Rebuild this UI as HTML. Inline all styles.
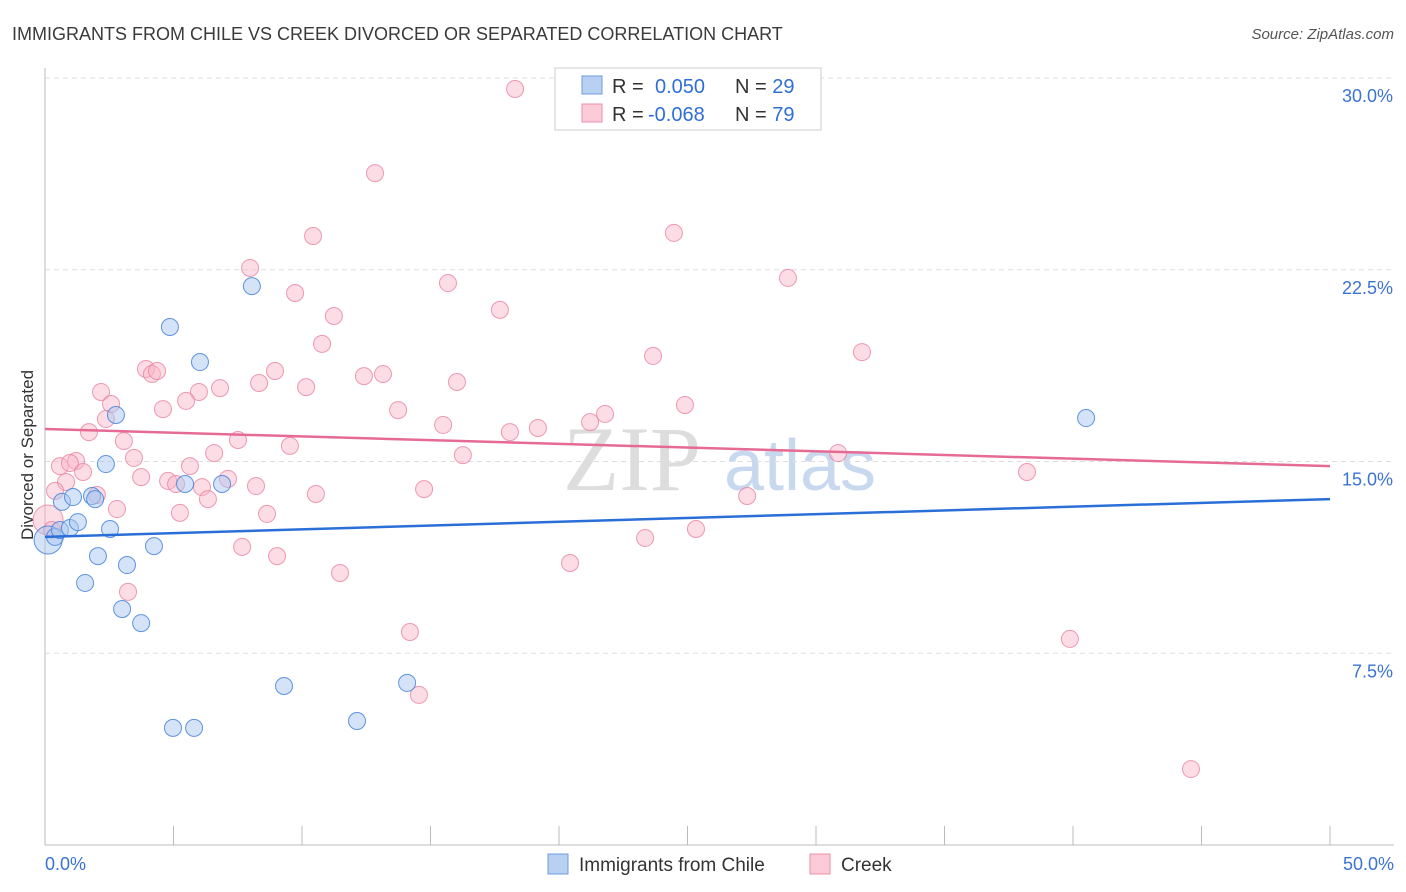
<!DOCTYPE html>
<html><head><meta charset="utf-8"><style>
body{margin:0;background:#fff;font-family:"Liberation Sans",sans-serif;}
svg{display:block}
</style></head><body>
<svg id="chart" width="1406" height="892">
<text x="12" y="40" font-size="18" fill="#3a3a3a">IMMIGRANTS FROM CHILE VS CREEK DIVORCED OR SEPARATED CORRELATION CHART</text>
<text x="1394" y="39" font-size="15" fill="#555" text-anchor="end" font-style="italic">Source: ZipAtlas.com</text>
<text transform="translate(33,455) rotate(-90)" font-size="17" fill="#333" text-anchor="middle">Divorced or Separated</text>
<g id="watermark">
<text x="632" y="490" font-size="92" fill="#ddd" text-anchor="middle" font-family="Liberation Serif,serif">ZIP</text>
<text x="800" y="490" font-size="72" fill="#c8d8ee" text-anchor="middle">atlas</text>
</g>
<g id="grid"></g><g id="axes"></g><g id="points"></g><g id="trends"></g>
<g>
<rect x="555" y="68" width="266" height="62" fill="#fff" stroke="#ccc"/>
<rect x="582" y="76" width="20" height="18" fill="#b8d0f2" stroke="#6d9de0"/>
<rect x="582" y="104" width="20" height="18" fill="#fbcbd8" stroke="#ec8fab"/>
<text x="612" y="93" font-size="20" fill="#333">R = <tspan fill="#2f6fd6" x="655">0.050</tspan><tspan x="735" fill="#333">N = </tspan><tspan fill="#2f6fd6">29</tspan></text>
<text x="612" y="121" font-size="20" fill="#333">R = <tspan fill="#2f6fd6" x="648">-0.068</tspan><tspan x="735" fill="#333">N = </tspan><tspan fill="#2f6fd6">79</tspan></text>
</g>
<g>
<rect x="548" y="854" width="20" height="20" fill="#b8d0f2" stroke="#6d9de0"/>
<text x="579" y="871" font-size="19" fill="#333">Immigrants from Chile</text>
<rect x="810" y="854" width="20" height="20" fill="#fbcbd8" stroke="#ec8fab"/>
<text x="841" y="871" font-size="19" fill="#333">Creek</text>
</g>
</svg>
<script>
const blueX=[0.12,0.39,0.58,0.66,0.97,1.09,1.28,1.83,1.95,2.06,2.37,2.53,2.76,1.56,3.19,3.00,3.74,4.24,4.86,4.98,5.45,5.80,6.03,6.89,8.05,9.30,12.14,14.09,40.51];
const blueY=[11.93,12.05,12.32,13.42,12.40,13.61,12.63,13.65,13.53,11.30,14.90,12.36,16.82,10.25,10.95,9.23,8.68,11.69,20.26,4.58,14.12,4.58,18.89,14.12,21.86,6.22,4.85,6.34,16.70];
const pinkX=[18.29,12.84,10.43,24.47,7.98,15.68,28.91,9.73,17.70,11.24,10.78,23.66,31.79,3.93,4.16,4.36,8.95,12.41,13.15,8.33,10.16,16.03,6.81,2.18,5.99,5.49,2.57,4.59,13.74,24.90,2.37,21.79,21.21,15.49,19.18,18.09,1.71,3.07,7.51,9.53,6.58,3.46,16.26,30.86,1.21,0.58,0.97,5.64,1.48,3.74,7.12,8.21,4.79,0.82,5.10,6.11,0.39,2.02,6.34,10.54,14.75,27.32,2.80,5.25,8.64,38.21,23.35,25.33,7.67,9.03,20.43,11.48,3.23,14.20,39.88,14.55,44.59,0.12,0.27];
const pinkY=[29.57,26.28,23.82,23.94,22.57,21.98,22.18,21.59,20.93,20.69,19.60,19.13,19.28,18.62,18.42,18.54,18.54,18.34,18.42,18.07,17.91,18.11,17.87,17.72,17.72,17.37,17.25,17.05,17.01,17.21,16.66,16.86,16.54,16.43,16.31,16.15,16.15,15.80,15.84,15.61,15.33,15.14,15.25,15.33,15.02,14.82,14.94,14.82,14.59,14.39,14.32,14.04,14.24,14.20,14.12,14.00,13.85,13.69,13.53,13.73,13.92,13.65,13.14,12.99,12.95,14.59,12.01,12.36,11.66,11.30,11.03,10.64,9.90,8.33,8.06,5.87,2.97,12.71,12.32];
const blueTrend=[12.05,13.53];
const pinkTrend=[16.27,14.82];
const yTicks=[7.5,15,22.5,30];
const yTickLabels=["7.5%","15.0%","22.5%","30.0%"];
const xTickLabels=["0.0%","50.0%"];
const NS="http://www.w3.org/2000/svg";
const X=v=>45+v/50*1285, Y=v=>845-v/30*767;
function mk(tag,attrs,parent){const e=document.createElementNS(NS,tag);for(const k in attrs)e.setAttribute(k,attrs[k]);document.getElementById(parent).appendChild(e);return e;}
yTicks.forEach((t,i)=>{
 const g=mk('line',{x1:45,x2:1394,y1:Y(t),y2:Y(t),stroke:'#ddd','stroke-dasharray':'5,4'},'grid');
 
 
 const l=mk('text',{x:1393,y:Y(t)+24,'font-size':18,fill:'#3b73d2','text-anchor':'end'},'axes');
 l.textContent=yTickLabels[i];
 
 
});
const ax=mk('line',{x1:45,x2:45,y1:68,y2:845,stroke:'#bbb'},'axes');


const bx=mk('line',{x1:45,x2:1394,y1:845,y2:845,stroke:'#bbb'},'axes');


for(let i=0;i<=10;i++){const t=mk('line',{x1:X(i*5),x2:X(i*5),y1:826,y2:845,stroke:'#bbb'},'axes');
 
 }
[[0,'start',45],[50,'end',1394]].forEach((d,i)=>{const t=mk('text',{x:d[2],y:870,'font-size':18,fill:'#3b73d2','text-anchor':d[1]},'axes');t.textContent=xTickLabels[i];
 
 });
pinkX.forEach((v,i)=>{const r=(i>=77&&i==77)?15:8.5;const c=mk('circle',{cx:X(v),cy:Y(pinkY[i]),r:r,fill:'rgba(248,180,200,0.45)',stroke:'rgba(232,130,160,0.8)','stroke-width':1},'points');
 
 });
blueX.forEach((v,i)=>{const r=i==0?14:8.5;const c=mk('circle',{cx:X(v),cy:Y(blueY[i]),r:r,fill:'rgba(170,200,240,0.5)',stroke:'rgba(70,130,220,0.85)','stroke-width':1},'points');
 
 });
const bt=mk('line',{x1:X(0),x2:X(50),y1:Y(blueTrend[0]),y2:Y(blueTrend[1]),stroke:'#2a6fd8','stroke-width':2.5},'trends');


const pt=mk('line',{x1:X(0),x2:X(50),y1:Y(pinkTrend[0]),y2:Y(pinkTrend[1]),stroke:'#e56b95','stroke-width':2.5},'trends');


</script>
</body></html>
